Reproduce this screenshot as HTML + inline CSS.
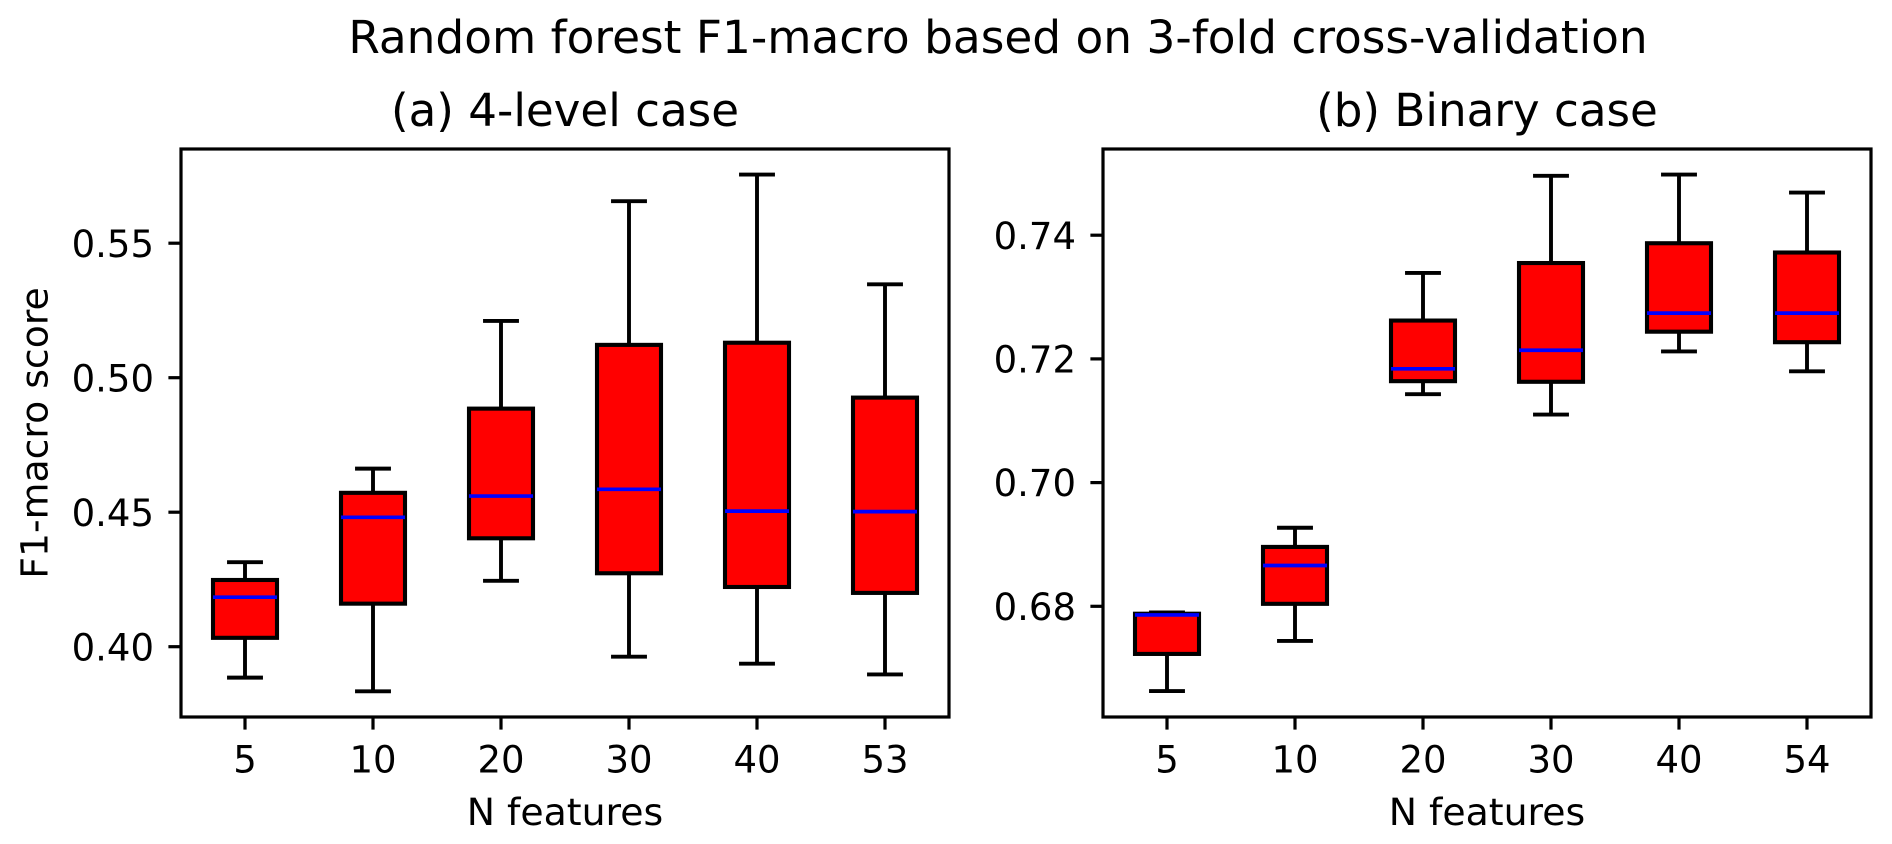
<!DOCTYPE html>
<html lang="en">
<head>
<meta charset="utf-8">
<title>Random forest F1-macro based on 3-fold cross-validation</title>
<style>
html,body{margin:0;padding:0;background:#fff;width:1892px;height:844px;overflow:hidden}
svg{display:block}
text{font-family:"DejaVu Sans","Liberation Sans",sans-serif;fill:#000}
</style>
</head>
<body>
<svg id="chart" xmlns="http://www.w3.org/2000/svg" width="1892" height="844" viewBox="0 0 1892 844">
<rect x="0" y="0" width="1892" height="844" fill="#fff"/>
<text x="998" y="53" font-size="45.4" text-anchor="middle">Random forest F1-macro based on 3-fold cross-validation</text>
<text x="565" y="126" font-size="45.2" text-anchor="middle">(a) 4-level case</text>
<text x="1487" y="126" font-size="45.2" text-anchor="middle">(b) Binary case</text>
<text x="0" y="0" font-size="37.8" text-anchor="middle" transform="translate(47.5 433) rotate(-90)">F1-macro score</text>
<text x="565" y="825" font-size="37.8" text-anchor="middle">N features</text>
<text x="1487" y="825" font-size="37.8" text-anchor="middle">N features</text>
<g id="panel-a"></g>
<g id="panel-b"></g>
</svg>
<script>
// Panel (a) data
const categoriesA = ['5', '10', '20', '30', '40', '53'];
const lowA    = [0.3885, 0.3834, 0.4245, 0.3963, 0.3937, 0.3897];
const q1A     = [0.4033, 0.4160, 0.4403, 0.4273, 0.4222, 0.4200];
const medianA = [0.4184, 0.4481, 0.4560, 0.4585, 0.4504, 0.4502];
const q3A     = [0.4248, 0.4572, 0.4885, 0.5122, 0.5130, 0.4926];
const highA   = [0.4314, 0.4662, 0.5211, 0.5656, 0.5755, 0.5347];
const yTickLabelsA = ['0.40', '0.45', '0.50', '0.55'];

// Panel (b) data
const categoriesB = ['5', '10', '20', '30', '40', '54'];
const lowB    = [0.6663, 0.6744, 0.7143, 0.7110, 0.7212, 0.7180];
const q1B     = [0.6723, 0.6804, 0.7164, 0.7163, 0.7244, 0.7227];
const medianB = [0.6786, 0.6866, 0.7184, 0.7214, 0.7274, 0.7274];
const q3B     = [0.6788, 0.6896, 0.7262, 0.7355, 0.7387, 0.7372];
const highB   = [0.6790, 0.6927, 0.7339, 0.7496, 0.7498, 0.7469];
const yTickLabelsB = ['0.68', '0.70', '0.72', '0.74'];

const NS = 'http://www.w3.org/2000/svg';

function make(tag, attrs, parent) {
  const node = document.createElementNS(NS, tag);
  for (const key in attrs) node.setAttribute(key, attrs[key]);
  parent.appendChild(node);
  return node;
}

function strokeLine(parent, x1, y1, x2, y2, color, width, cap) {
  return make('line', {
    x1: x1, y1: y1, x2: x2, y2: y2,
    stroke: color, 'stroke-width': width, 'stroke-linecap': cap || 'butt'
  }, parent);
}

function drawPanel(cfg) {
  const root = document.getElementById(cfg.id);
  const left = cfg.left, right = cfg.right, top = 149, bottom = 717;
  const n = cfg.categories.length;
  const xScale = i => left + (i + 0.5) * (right - left) / n;
  const yScale = v => cfg.yRefPixel - (v - cfg.yRefValue) * cfg.yPixelsPerUnit;
  const slot = (right - left) / n;

  cfg.categories.forEach((cat, i) => {
    const cx = xScale(i);
    const hw = slot * 0.25;
    const capHalf = slot * 0.125;
    const g = make('g', {}, root);
    
    

    const whiskerHigh = strokeLine(g, cx, yScale(cfg.q3[i]), cx, yScale(cfg.high[i]), '#000', 3.9);
    
    

    const whiskerLow = strokeLine(g, cx, yScale(cfg.q1[i]), cx, yScale(cfg.low[i]), '#000', 3.9);
    
    

    const capHigh = strokeLine(g, cx - capHalf, yScale(cfg.high[i]), cx + capHalf, yScale(cfg.high[i]), '#000', 3.9, 'square');
    
    

    const capLow = strokeLine(g, cx - capHalf, yScale(cfg.low[i]), cx + capHalf, yScale(cfg.low[i]), '#000', 3.9, 'square');
    
    

    const box = make('rect', {
      x: cx - hw, y: yScale(cfg.q3[i]),
      width: 2 * hw, height: yScale(cfg.q1[i]) - yScale(cfg.q3[i]),
      fill: '#ff0000', stroke: '#000', 'stroke-width': 4.1
    }, g);
    
    

    const median = strokeLine(g, cx - hw, yScale(cfg.median[i]), cx + hw, yScale(cfg.median[i]), '#0000ff', 3.7);
    
    

    const tick = strokeLine(root, cx, bottom, cx, bottom + 12.6, '#000', 3.2);
    
    

    const label = make('text', { x: cx, y: 772.5, 'font-size': 37, 'text-anchor': 'middle' }, root);
    label.textContent = cat;
    
    
  });

  cfg.yTicks.forEach(text => {
    const y = yScale(parseFloat(text));
    const tick = strokeLine(root, left - 12.6, y, left, y, '#000', 3.2);
    
    

    const label = make('text', { x: left - 27, y: y + 13.6, 'font-size': 37, 'text-anchor': 'end' }, root);
    label.textContent = text;
    
    
  });

  const frame = make('rect', {
    x: left, y: top, width: right - left, height: bottom - top,
    fill: 'none', stroke: '#000', 'stroke-width': 3.2
  }, root);
  
  
}

drawPanel({
  id: 'panel-a', prefix: 'panel-a', left: 181, right: 949,
  yRefValue: 0.40, yRefPixel: 646.7, yPixelsPerUnit: 2690,
  categories: categoriesA, low: lowA, q1: q1A, median: medianA, q3: q3A, high: highA,
  yTicks: yTickLabelsA
});

drawPanel({
  id: 'panel-b', prefix: 'panel-b', left: 1103, right: 1871,
  yRefValue: 0.68, yRefPixel: 606.3, yPixelsPerUnit: 6185,
  categories: categoriesB, low: lowB, q1: q1B, median: medianB, q3: q3B, high: highB,
  yTicks: yTickLabelsB
});
</script>
</body>
</html>
